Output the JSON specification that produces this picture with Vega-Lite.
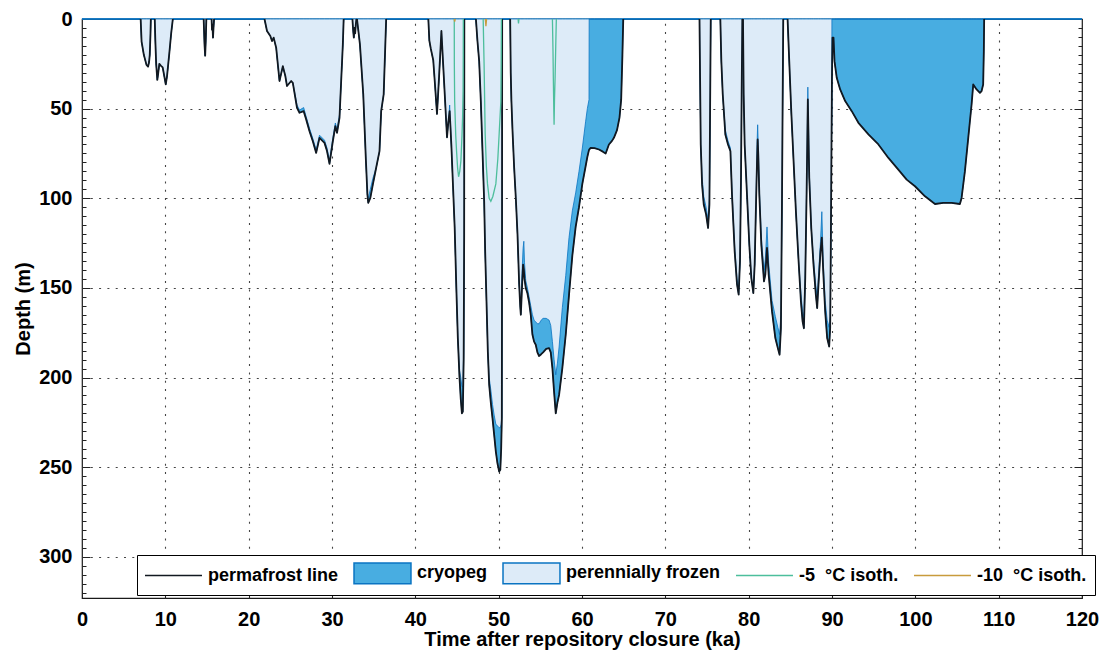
{
  "$schema": "https://vega.github.io/schema/vega-lite/v6.json",
  "width": 1000,
  "height": 579,
  "autosize": "none",
  "padding": {"left": 82, "top": 19, "right": 19, "bottom": 55},
  "background": "white",
  "config": {"font": "Liberation Sans", "view": {"stroke": "#1a1a1a", "strokeWidth": 1.2}, "legend": {"symbolSize": 324, "symbolStrokeWidth": 1.5}},
  "datasets": {
    "ground": [
      {"t":0,"pf":0,"fz":0,"s":0},
      {"t":7.04,"pf":0,"fz":0,"s":1},{"t":7.15,"pf":12.6,"fz":12.6,"s":1},{"t":7.42,"pf":20,"fz":20,"s":1},{"t":7.74,"pf":25.6,"fz":25.6,"s":1},{"t":7.93,"pf":26.6,"fz":26.6,"s":1},{"t":8.05,"pf":24,"fz":24,"s":1},{"t":8.13,"pf":20,"fz":20,"s":1},{"t":8.22,"pf":8,"fz":8,"s":1},{"t":8.26,"pf":0,"fz":0,"s":1},
      {"t":8.73,"pf":0,"fz":0,"s":2},{"t":8.8,"pf":12,"fz":12,"s":2},{"t":8.9,"pf":25,"fz":25,"s":2},{"t":9.04,"pf":34,"fz":34,"s":2},{"t":9.15,"pf":30,"fz":30,"s":2},{"t":9.28,"pf":25,"fz":25,"s":2},{"t":9.45,"pf":26,"fz":26,"s":2},{"t":9.68,"pf":27,"fz":27,"s":2},{"t":9.8,"pf":30,"fz":30,"s":2},{"t":10.05,"pf":36.5,"fz":36.5,"s":2},{"t":10.2,"pf":32,"fz":32,"s":2},{"t":10.35,"pf":25,"fz":25,"s":2},{"t":10.5,"pf":18,"fz":18,"s":2},{"t":10.7,"pf":8,"fz":8,"s":2},{"t":10.9,"pf":0,"fz":0,"s":2},
      {"t":14.6,"pf":0,"fz":0,"s":3},{"t":14.7,"pf":14,"fz":14,"s":3},{"t":14.78,"pf":20.5,"fz":20.5,"s":3},{"t":14.85,"pf":12,"fz":12,"s":3},{"t":14.92,"pf":0,"fz":0,"s":3},
      {"t":15.55,"pf":0,"fz":0,"s":4},{"t":15.6,"pf":6,"fz":6,"s":4},{"t":15.65,"pf":3,"fz":3,"s":4},{"t":15.72,"pf":10.4,"fz":10.4,"s":4},{"t":15.78,"pf":5,"fz":5,"s":4},{"t":15.85,"pf":0,"fz":0,"s":4},
      {"t":21.9,"pf":0,"fz":0,"s":5},{"t":22.2,"pf":6.7,"fz":6.7,"s":5},{"t":22.6,"pf":9.5,"fz":9.5,"s":5},{"t":22.8,"pf":12.3,"fz":12.3,"s":5},{"t":23.0,"pf":10.4,"fz":10.4,"s":5},{"t":23.3,"pf":16,"fz":16,"s":5},{"t":23.7,"pf":34.6,"fz":34.6,"s":5},{"t":24.1,"pf":26.3,"fz":26.3,"s":5},{"t":24.4,"pf":31.8,"fz":31.8,"s":5},{"t":24.6,"pf":37.4,"fz":37.4,"s":5},{"t":25.1,"pf":34.6,"fz":34.6,"s":5},{"t":25.3,"pf":35.6,"fz":35.6,"s":5},{"t":25.8,"pf":49.5,"fz":48,"s":5},{"t":26.1,"pf":52.3,"fz":50.8,"s":5},{"t":26.6,"pf":51.4,"fz":49.4,"s":5},{"t":26.9,"pf":56,"fz":54.5,"s":5},{"t":27.3,"pf":62.6,"fz":61,"s":5},{"t":27.7,"pf":68.2,"fz":66.7,"s":5},{"t":28.1,"pf":74.7,"fz":73,"s":5},{"t":28.5,"pf":66.3,"fz":64.8,"s":5},{"t":29.1,"pf":69.1,"fz":67.6,"s":5},{"t":29.4,"pf":73.7,"fz":72,"s":5},{"t":29.7,"pf":80.8,"fz":79,"s":5},{"t":30.1,"pf":68.2,"fz":66.5,"s":5},{"t":30.4,"pf":59.8,"fz":58,"s":5},{"t":30.6,"pf":63.5,"fz":61.5,"s":5},{"t":30.9,"pf":55.1,"fz":53.5,"s":5},{"t":31.3,"pf":14.2,"fz":14.2,"s":5},{"t":31.4,"pf":0,"fz":0,"s":5},
      {"t":32.45,"pf":0,"fz":0,"s":6},{"t":32.55,"pf":7,"fz":7,"s":6},{"t":32.62,"pf":10.4,"fz":10.4,"s":6},{"t":32.7,"pf":5,"fz":5,"s":6},{"t":32.78,"pf":8,"fz":8,"s":6},{"t":32.86,"pf":3,"fz":3,"s":6},{"t":32.93,"pf":0,"fz":0,"s":6},
      {"t":33.0,"pf":0,"fz":0,"s":7},{"t":33.35,"pf":14,"fz":14,"s":7},{"t":33.75,"pf":42,"fz":42,"s":7},{"t":34.07,"pf":79,"fz":79,"s":7},{"t":34.25,"pf":98,"fz":98,"s":7},{"t":34.35,"pf":102.6,"fz":100,"s":7},{"t":34.6,"pf":99.8,"fz":95,"s":7},{"t":34.9,"pf":92.4,"fz":89,"s":7},{"t":35.3,"pf":83,"fz":83,"s":7},{"t":35.7,"pf":73.7,"fz":73.7,"s":7},{"t":35.9,"pf":51.4,"fz":51.4,"s":7},{"t":36.2,"pf":42,"fz":42,"s":7},{"t":36.5,"pf":0,"fz":0,"s":7},
      {"t":41.56,"pf":0,"fz":0,"s":8},{"t":41.68,"pf":12,"fz":12,"s":8},{"t":41.85,"pf":16.4,"fz":16.4,"s":8},{"t":42.15,"pf":23,"fz":23,"s":8},{"t":42.35,"pf":36,"fz":36,"s":8},{"t":42.6,"pf":53,"fz":53,"s":8},{"t":42.85,"pf":32,"fz":32,"s":8},{"t":43.05,"pf":14,"fz":14,"s":8},{"t":43.13,"pf":6.7,"fz":6.7,"s":8},{"t":43.25,"pf":17.5,"fz":17.5,"s":8},{"t":43.53,"pf":42,"fz":42,"s":8},{"t":43.8,"pf":66,"fz":66,"s":8},{"t":43.95,"pf":58,"fz":58,"s":8},{"t":44.12,"pf":51.4,"fz":48,"s":8},{"t":44.32,"pf":70,"fz":70,"s":8},{"t":44.52,"pf":93,"fz":93,"s":8},{"t":44.72,"pf":116,"fz":116,"s":8},{"t":44.92,"pf":150,"fz":150,"s":8},{"t":45.1,"pf":178,"fz":178,"s":8},{"t":45.3,"pf":200,"fz":196,"s":8},{"t":45.45,"pf":212,"fz":200,"s":8},{"t":45.59,"pf":220,"fz":205,"s":8},{"t":45.7,"pf":219,"fz":205,"s":8},{"t":45.8,"pf":190,"fz":186,"s":8},{"t":45.86,"pf":120,"fz":120,"s":8},{"t":45.88,"pf":0,"fz":0,"s":8},
      {"t":47.27,"pf":0,"fz":0,"s":9},{"t":47.45,"pf":12,"fz":12,"s":9},{"t":47.66,"pf":23.5,"fz":23.5,"s":9},{"t":47.86,"pf":45.8,"fz":45.8,"s":9},{"t":48.06,"pf":73.7,"fz":73.7,"s":9},{"t":48.26,"pf":101.7,"fz":101.7,"s":9},{"t":48.38,"pf":129.6,"fz":129.6,"s":9},{"t":48.54,"pf":157.5,"fz":157.5,"s":9},{"t":48.7,"pf":185.5,"fz":185.5,"s":9},{"t":48.86,"pf":204,"fz":200,"s":9},{"t":49.06,"pf":214,"fz":207,"s":9},{"t":49.26,"pf":222.7,"fz":215,"s":9},{"t":49.46,"pf":232,"fz":221,"s":9},{"t":49.66,"pf":241.3,"fz":226,"s":9},{"t":49.86,"pf":248,"fz":227,"s":9},{"t":50.06,"pf":252.5,"fz":228,"s":9},{"t":50.2,"pf":251.5,"fz":228,"s":9},{"t":50.3,"pf":240,"fz":226,"s":9},{"t":50.38,"pf":222.7,"fz":222,"s":9},{"t":50.4,"pf":150,"fz":150,"s":9},{"t":50.42,"pf":0,"fz":0,"s":9},
      {"t":51.38,"pf":0,"fz":0,"s":10},{"t":51.45,"pf":30,"fz":30,"s":10},{"t":51.53,"pf":45.8,"fz":45.8,"s":10},{"t":51.66,"pf":62,"fz":62,"s":10},{"t":51.86,"pf":83,"fz":83,"s":10},{"t":52.06,"pf":100,"fz":100,"s":10},{"t":52.26,"pf":120,"fz":120,"s":10},{"t":52.46,"pf":148,"fz":148,"s":10},{"t":52.58,"pf":160,"fz":156,"s":10},{"t":52.66,"pf":165,"fz":158,"s":10},{"t":52.8,"pf":150,"fz":142,"s":10},{"t":52.93,"pf":137,"fz":128,"s":10},{"t":53.02,"pf":140,"fz":124,"s":10},{"t":53.1,"pf":145,"fz":136,"s":10},{"t":53.25,"pf":150,"fz":146,"s":10},{"t":53.45,"pf":153,"fz":150,"s":10},{"t":53.65,"pf":158,"fz":155,"s":10},{"t":53.85,"pf":165,"fz":160,"s":10},{"t":54.05,"pf":176,"fz":165,"s":10},{"t":54.25,"pf":180,"fz":168,"s":10},{"t":54.45,"pf":181.7,"fz":169,"s":10},{"t":54.65,"pf":186,"fz":170,"s":10},{"t":54.85,"pf":188,"fz":170,"s":10},{"t":55.1,"pf":187,"fz":168,"s":10},{"t":55.33,"pf":186,"fz":167,"s":10},{"t":55.7,"pf":184,"fz":167,"s":10},{"t":56.05,"pf":183.6,"fz":168,"s":10},{"t":56.25,"pf":186,"fz":171,"s":10},{"t":56.45,"pf":194.8,"fz":180,"s":10},{"t":56.65,"pf":208,"fz":190,"s":10},{"t":56.85,"pf":220,"fz":198.5,"s":10},{"t":57.05,"pf":214,"fz":192,"s":10},{"t":57.25,"pf":209.7,"fz":183,"s":10},{"t":57.64,"pf":194.8,"fz":161,"s":10},{"t":58.05,"pf":176,"fz":143,"s":10},{"t":58.44,"pf":154,"fz":122,"s":10},{"t":58.84,"pf":132,"fz":107,"s":10},{"t":59.24,"pf":116,"fz":97,"s":10},{"t":59.64,"pf":105,"fz":85,"s":10},{"t":60.04,"pf":92,"fz":72,"s":10},{"t":60.44,"pf":82,"fz":57,"s":10},{"t":60.64,"pf":77,"fz":50,"s":10},{"t":60.84,"pf":73,"fz":45,"s":10},{"t":60.86,"pf":72.9,"fz":0,"s":10},{"t":61.04,"pf":71.9,"fz":0,"s":10},{"t":61.5,"pf":72,"fz":0,"s":10},{"t":62.04,"pf":72.8,"fz":0,"s":10},{"t":62.5,"pf":74,"fz":0,"s":10},{"t":62.84,"pf":75,"fz":0,"s":10},{"t":63.23,"pf":70,"fz":0,"s":10},{"t":63.6,"pf":68,"fz":0,"s":10},{"t":63.83,"pf":66.3,"fz":0,"s":10},{"t":64.2,"pf":62,"fz":0,"s":10},{"t":64.5,"pf":55,"fz":0,"s":10},{"t":64.7,"pf":45,"fz":0,"s":10},{"t":64.85,"pf":20,"fz":0,"s":10},{"t":64.95,"pf":0,"fz":0,"s":10},
      {"t":74.1,"pf":0,"fz":0,"s":11},{"t":74.17,"pf":33,"fz":33,"s":11},{"t":74.25,"pf":70,"fz":70,"s":11},{"t":74.41,"pf":92.4,"fz":88,"s":11},{"t":74.61,"pf":103.5,"fz":99,"s":11},{"t":74.89,"pf":109,"fz":105,"s":11},{"t":75.13,"pf":116.6,"fz":112,"s":11},{"t":75.29,"pf":103.5,"fz":100,"s":11},{"t":75.37,"pf":51.4,"fz":51.4,"s":11},{"t":75.45,"pf":0,"fz":0,"s":11},
      {"t":76.6,"pf":0,"fz":0,"s":12},{"t":76.72,"pf":23.5,"fz":23.5,"s":12},{"t":76.89,"pf":42,"fz":42,"s":12},{"t":77.2,"pf":64.4,"fz":62,"s":12},{"t":77.52,"pf":70,"fz":68,"s":12},{"t":77.81,"pf":73.7,"fz":72,"s":12},{"t":78.0,"pf":98,"fz":96,"s":12},{"t":78.32,"pf":129.6,"fz":127,"s":12},{"t":78.6,"pf":148,"fz":145,"s":12},{"t":78.8,"pf":153.8,"fz":150,"s":12},{"t":78.96,"pf":135,"fz":135,"s":12},{"t":79.08,"pf":88.6,"fz":88.6,"s":12},{"t":79.16,"pf":42,"fz":42,"s":12},{"t":79.24,"pf":0,"fz":0,"s":12},
      {"t":79.32,"pf":0,"fz":0,"s":13},{"t":79.4,"pf":42,"fz":42,"s":13},{"t":79.52,"pf":70,"fz":70,"s":13},{"t":79.8,"pf":98,"fz":98,"s":13},{"t":80.08,"pf":126,"fz":126,"s":13},{"t":80.32,"pf":144.5,"fz":144.5,"s":13},{"t":80.56,"pf":152.9,"fz":150,"s":13},{"t":80.72,"pf":137,"fz":137,"s":13},{"t":80.88,"pf":103.5,"fz":103.5,"s":13},{"t":81.0,"pf":80,"fz":70,"s":13},{"t":81.08,"pf":67.2,"fz":59,"s":13},{"t":81.15,"pf":75,"fz":70,"s":13},{"t":81.28,"pf":98,"fz":95,"s":13},{"t":81.52,"pf":126,"fz":122,"s":13},{"t":81.84,"pf":146.4,"fz":140,"s":13},{"t":82.0,"pf":142.6,"fz":134,"s":13},{"t":82.2,"pf":127.7,"fz":116,"s":13},{"t":82.4,"pf":142.6,"fz":136,"s":13},{"t":82.8,"pf":163,"fz":157,"s":13},{"t":83.2,"pf":178,"fz":166,"s":13},{"t":83.5,"pf":183.6,"fz":172,"s":13},{"t":83.71,"pf":187.3,"fz":176,"s":13},{"t":83.87,"pf":172.5,"fz":165,"s":13},{"t":83.99,"pf":107,"fz":107,"s":13},{"t":84.07,"pf":51.4,"fz":51.4,"s":13},{"t":84.15,"pf":0,"fz":0,"s":13},
      {"t":84.67,"pf":0,"fz":0,"s":14},{"t":84.87,"pf":23.5,"fz":23.5,"s":14},{"t":85.11,"pf":51.4,"fz":51.4,"s":14},{"t":85.39,"pf":79.3,"fz":79.3,"s":14},{"t":85.67,"pf":107.3,"fz":107.3,"s":14},{"t":85.99,"pf":135,"fz":135,"s":14},{"t":86.27,"pf":157.5,"fz":153,"s":14},{"t":86.47,"pf":168.7,"fz":163,"s":14},{"t":86.63,"pf":172.5,"fz":166,"s":14},{"t":86.79,"pf":144.5,"fz":140,"s":14},{"t":86.95,"pf":98,"fz":95,"s":14},{"t":87.1,"pf":44.9,"fz":38,"s":14},{"t":87.27,"pf":88.6,"fz":85,"s":14},{"t":87.51,"pf":116.6,"fz":116.6,"s":14},{"t":87.78,"pf":137,"fz":134,"s":14},{"t":88.06,"pf":153.8,"fz":149,"s":14},{"t":88.22,"pf":161.3,"fz":155,"s":14},{"t":88.38,"pf":148,"fz":143,"s":14},{"t":88.62,"pf":129.6,"fz":124,"s":14},{"t":88.78,"pf":122,"fz":107.5,"s":14},{"t":88.95,"pf":140.8,"fz":136,"s":14},{"t":89.18,"pf":163,"fz":157,"s":14},{"t":89.42,"pf":178,"fz":168,"s":14},{"t":89.66,"pf":182.7,"fz":172,"s":14},{"t":89.78,"pf":172.5,"fz":166,"s":14},{"t":89.86,"pf":126,"fz":122,"s":14},{"t":89.94,"pf":70,"fz":70,"s":14},{"t":89.98,"pf":45,"fz":45,"s":14},{"t":89.99,"pf":35,"fz":0,"s":14},{"t":90.02,"pf":23.5,"fz":0,"s":14},{"t":90.06,"pf":10.4,"fz":0,"s":14},{"t":90.18,"pf":10.4,"fz":0,"s":14},{"t":90.3,"pf":23.5,"fz":0,"s":14},{"t":90.57,"pf":32.8,"fz":0,"s":14},{"t":90.98,"pf":39.3,"fz":0,"s":14},{"t":91.58,"pf":45.8,"fz":0,"s":14},{"t":92.37,"pf":51.4,"fz":0,"s":14},{"t":93.17,"pf":57.9,"fz":0,"s":14},{"t":94.37,"pf":64.4,"fz":0,"s":14},{"t":95.57,"pf":70,"fz":0,"s":14},{"t":96.77,"pf":77.5,"fz":0,"s":14},{"t":97.96,"pf":84,"fz":0,"s":14},{"t":98.96,"pf":89.6,"fz":0,"s":14},{"t":99.96,"pf":93.3,"fz":0,"s":14},{"t":101.16,"pf":98.9,"fz":0,"s":14},{"t":102.36,"pf":103.2,"fz":0,"s":14},{"t":103.35,"pf":102.6,"fz":0,"s":14},{"t":104.35,"pf":102.6,"fz":0,"s":14},{"t":105.35,"pf":103.2,"fz":0,"s":14},{"t":105.55,"pf":99.8,"fz":0,"s":14},{"t":105.95,"pf":84.9,"fz":0,"s":14},{"t":106.35,"pf":66.3,"fz":0,"s":14},{"t":106.75,"pf":47.7,"fz":0,"s":14},{"t":106.95,"pf":36.5,"fz":0,"s":14},{"t":107.35,"pf":39.3,"fz":0,"s":14},{"t":107.75,"pf":41.2,"fz":0,"s":14},{"t":107.95,"pf":40.2,"fz":0,"s":14},{"t":108.14,"pf":36.5,"fz":0,"s":14},{"t":108.22,"pf":17.9,"fz":0,"s":14},{"t":108.26,"pf":0,"fz":0,"s":14},
      {"t":120,"pf":0,"fz":0,"s":99}
    ],
    "iso": [
      {"t":44.67,"d":0,"s":"a","k":"-5\u00a0 °C isoth."},{"t":44.68,"d":25,"s":"a","k":"-5\u00a0 °C isoth."},{"t":44.72,"d":46,"s":"a","k":"-5\u00a0 °C isoth."},{"t":44.85,"d":65,"s":"a","k":"-5\u00a0 °C isoth."},{"t":44.95,"d":74,"s":"a","k":"-5\u00a0 °C isoth."},{"t":45.07,"d":83,"s":"a","k":"-5\u00a0 °C isoth."},{"t":45.19,"d":88,"s":"a","k":"-5\u00a0 °C isoth."},{"t":45.33,"d":85,"s":"a","k":"-5\u00a0 °C isoth."},{"t":45.47,"d":79,"s":"a","k":"-5\u00a0 °C isoth."},{"t":45.6,"d":65,"s":"a","k":"-5\u00a0 °C isoth."},{"t":45.67,"d":55,"s":"a","k":"-5\u00a0 °C isoth."},{"t":45.73,"d":40,"s":"a","k":"-5\u00a0 °C isoth."},{"t":45.75,"d":20,"s":"a","k":"-5\u00a0 °C isoth."},{"t":45.76,"d":0,"s":"a","k":"-5\u00a0 °C isoth."},
      {"t":48.14,"d":0,"s":"b","k":"-5\u00a0 °C isoth."},{"t":48.25,"d":25,"s":"b","k":"-5\u00a0 °C isoth."},{"t":48.38,"d":64,"s":"b","k":"-5\u00a0 °C isoth."},{"t":48.52,"d":82,"s":"b","k":"-5\u00a0 °C isoth."},{"t":48.66,"d":92,"s":"b","k":"-5\u00a0 °C isoth."},{"t":48.86,"d":100,"s":"b","k":"-5\u00a0 °C isoth."},{"t":49.06,"d":101.7,"s":"b","k":"-5\u00a0 °C isoth."},{"t":49.3,"d":99,"s":"b","k":"-5\u00a0 °C isoth."},{"t":49.66,"d":92,"s":"b","k":"-5\u00a0 °C isoth."},{"t":49.9,"d":78,"s":"b","k":"-5\u00a0 °C isoth."},{"t":50.06,"d":64,"s":"b","k":"-5\u00a0 °C isoth."},{"t":50.26,"d":46,"s":"b","k":"-5\u00a0 °C isoth."},{"t":50.3,"d":25,"s":"b","k":"-5\u00a0 °C isoth."},{"t":50.33,"d":0,"s":"b","k":"-5\u00a0 °C isoth."},
      {"t":52.33,"d":0,"s":"c","k":"-5\u00a0 °C isoth."},{"t":52.38,"d":2.5,"s":"c","k":"-5\u00a0 °C isoth."},{"t":52.43,"d":0,"s":"c","k":"-5\u00a0 °C isoth."},
      {"t":56.45,"d":0,"s":"d","k":"-5\u00a0 °C isoth."},{"t":56.52,"d":18,"s":"d","k":"-5\u00a0 °C isoth."},{"t":56.56,"d":33,"s":"d","k":"-5\u00a0 °C isoth."},{"t":56.62,"d":52,"s":"d","k":"-5\u00a0 °C isoth."},{"t":56.65,"d":59,"s":"d","k":"-5\u00a0 °C isoth."},{"t":56.7,"d":45,"s":"d","k":"-5\u00a0 °C isoth."},{"t":56.77,"d":33,"s":"d","k":"-5\u00a0 °C isoth."},{"t":56.85,"d":15,"s":"d","k":"-5\u00a0 °C isoth."},{"t":56.92,"d":0,"s":"d","k":"-5\u00a0 °C isoth."},
      {"t":44.67,"d":0,"s":"e","k":"-10\u00a0 °C isoth."},{"t":44.72,"d":1.5,"s":"e","k":"-10\u00a0 °C isoth."},{"t":44.8,"d":0,"s":"e","k":"-10\u00a0 °C isoth."},
      {"t":48.4,"d":0,"s":"f","k":"-10\u00a0 °C isoth."},{"t":48.47,"d":4,"s":"f","k":"-10\u00a0 °C isoth."},{"t":48.55,"d":0,"s":"f","k":"-10\u00a0 °C isoth."}
    ]
  },
  "layer": [
    {
      "data": {"name": "ground"},
      "mark": {"type": "area", "stroke": "#0A74C2", "strokeWidth": 1, "opacity": 1, "strokeJoin": "round"},
      "encoding": {
        "x": {"field": "t", "type": "quantitative", "scale": {"domain": [0, 120], "nice": false, "zero": false},
          "axis": {"values": [0,10,20,30,40,50,60,70,80,90,100,110,120], "tickSize": -7, "tickColor": "#222", "tickWidth": 1,
            "grid": true, "gridDash": [2, 6.3], "gridColor": "#444", "gridWidth": 1.1,
            "gridOpacity": {"condition": {"test": "datum.value > 0 && datum.value < 120", "value": 1}, "value": 0},
            "domain": false, "labelFontSize": 20, "labelFontWeight": "bold", "labelColor": "black", "labelPadding": 18, "labelFlush": false,
            "title": "Time after repository closure (ka)", "titleFontSize": 20, "titleFontWeight": "bold", "titleColor": "black", "titlePadding": 0}},
        "y": {"field": "pf", "type": "quantitative", "scale": {"domain": [0, 323], "reverse": true, "nice": false, "zero": false},
          "axis": {"values": [0,5,10,15,20,25,30,35,40,45,50,55,60,65,70,75,80,85,90,95,100,105,110,115,120,125,130,135,140,145,150,155,160,165,170,175,180,185,190,195,200,205,210,215,220,225,230,235,240,245,250,255,260,265,270,275,280,285,290,295,300,305,310,315,320],
            "labelExpr": "datum.value % 50 === 0 ? datum.label : ''",
            "tickSize": {"condition": {"test": "datum.value % 50 === 0", "value": -8}, "value": -4},
            "tickColor": "#222", "tickWidth": 1,
            "grid": true, "gridDash": [2, 6.3], "gridColor": "#444", "gridWidth": 1.1,
            "gridOpacity": {"condition": {"test": "datum.value % 50 === 0 && datum.value > 0", "value": 1}, "value": 0},
            "domain": false, "labelFontSize": 20, "labelFontWeight": "bold", "labelColor": "black", "labelPadding": 18,
            "title": "Depth (m)", "titleFontSize": 20, "titleFontWeight": "bold", "titleColor": "black", "titlePadding": 5}},
        "y2": {"datum": 0},
        "color": {"datum": "cryopeg", "type": "nominal",
          "scale": {"domain": ["permafrost line", "cryopeg", "perennially frozen", "-5\u00a0 °C isoth.", "-10\u00a0 °C isoth."],
                    "range": ["#111820", "#48ADE1", "#DDEBF8", "#4DBE9C", "#C89B3C"]},
          "legend": {"title": null, "orient": "none", "legendX": 55, "legendY": 536, "direction": "horizontal", "columns": 5,
            "symbolSize": 324, "symbolStrokeWidth": 1.5, "labelFontSize": 18, "labelFontWeight": "bold", "labelColor": "black", "labelOffset": 43, "labelLimit": 300,
            "columnPadding": 12, "padding": 8, "strokeColor": "black", "fillColor": "white", "cornerRadius": 0,
            "encoding": {"symbols": {
              "shape": {"value": {"expr": "(datum.value === 'cryopeg' || datum.value === 'perennially frozen') ? 'M-1.11,-1.14L5.22,-1.14L5.22,1.14L-1.11,1.14Z' : 'M-1.11,0L5.22,0'"}},
              "fill": {"value": {"expr": "(datum.value === 'cryopeg') ? '#48ADE1' : ((datum.value === 'perennially frozen') ? '#DDEBF8' : 'transparent')"}},
              "stroke": {"value": {"expr": "(datum.value === 'cryopeg' || datum.value === 'perennially frozen') ? '#0A74C2' : ((datum.value === 'permafrost line') ? '#111820' : ((indexof(datum.value, '-5') === 0) ? '#4DBE9C' : '#C89B3C'))"}},
              "opacity": {"value": 1}, "fillOpacity": {"value": 1}, "strokeOpacity": {"value": 1}
            }}}}
      }
    },
    {
      "data": {"name": "ground"},
      "mark": {"type": "area", "stroke": "#0A74C2", "strokeWidth": 0.8, "opacity": 1, "strokeJoin": "round"},
      "encoding": {
        "x": {"field": "t", "type": "quantitative"},
        "y": {"field": "fz", "type": "quantitative", "axis": null},
        "y2": {"datum": 0},
        "color": {"datum": "perennially frozen", "type": "nominal", "legend": null}
      }
    },
    {
      "data": {"name": "ground"},
      "mark": {"type": "line", "strokeWidth": 1.8, "strokeJoin": "round"},
      "encoding": {
        "x": {"field": "t", "type": "quantitative"},
        "y": {"field": "pf", "type": "quantitative",
          "axis": {"orient": "right", "values": [0,5,10,15,20,25,30,35,40,45,50,55,60,65,70,75,80,85,90,95,100,105,110,115,120,125,130,135,140,145,150,155,160,165,170,175,180,185,190,195,200,205,210,215,220,225,230,235,240,245,250,255,260,265,270,275,280,285,290,295,300,305,310,315,320],
            "labels": false, "title": null, "grid": false, "domain": false, "tickColor": "#222", "tickWidth": 1,
            "tickSize": {"condition": {"test": "datum.value % 50 === 0", "value": -8}, "value": -4}}},
        "detail": {"field": "s", "type": "nominal"},
        "color": {"datum": "permafrost line", "type": "nominal", "legend": null}
      }
    },
    {
      "data": {"name": "iso"},
      "mark": {"type": "line", "strokeWidth": 1.3},
      "encoding": {
        "x": {"field": "t", "type": "quantitative"},
        "y": {"field": "d", "type": "quantitative", "axis": null},
        "detail": {"field": "s", "type": "nominal"},
        "color": {"field": "k", "type": "nominal", "legend": null}
      }
    }
  ],
  "resolve": {"axis": {"y": "independent"}, "legend": {"color": "independent"}}
}
